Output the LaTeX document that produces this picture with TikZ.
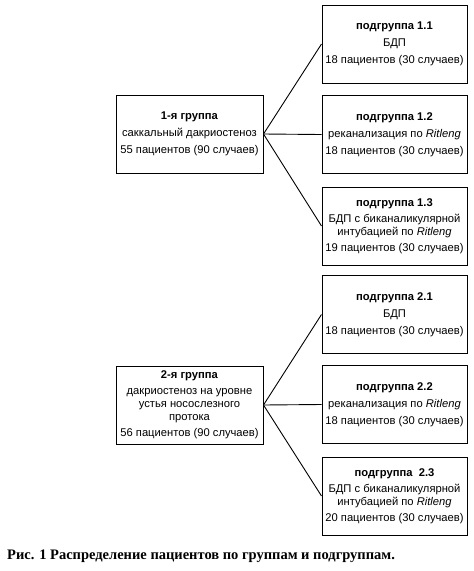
\documentclass[tikz,border=0pt]{standalone}
\usepackage{fontspec}
\setmainfont{Liberation Sans}
\newfontfamily\capfont{Liberation Serif}
\begin{document}
\begin{tikzpicture}[x=1pt,y=-1pt,
  box/.style={draw, line width=1pt, minimum height=78pt, inner sep=0pt, align=center,
    font=\fontsize{11.2}{13}\selectfont},
  grp/.style={box, minimum width=147pt},
  sub/.style={box, minimum width=145pt},
  link/.style={line width=0.9pt}]
\useasboundingbox (0,0) rectangle (474,571);
\node[grp] (g1) at (189.5,134) {\textbf{1-я группа}\\[4pt]саккальный дакриостеноз\\[4pt]55 пациентов (90 случаев)};
\node[grp] (g2) at (189.5,405) {\textbf{2-я группа}\\[3pt]дакриостеноз на уровне\\устья носослезного\\протока\\[3pt]56 пациентов (90 случаев)};
\node[sub] (s11) at (394.5,44) {\textbf{подгруппа 1.1}\\[4pt]БДП\\[4pt]18 пациентов (30 случаев)};
\node[sub] (s12) at (394.5,134.5) {\textbf{подгруппа 1.2}\\[4pt]реканализация по \textit{Ritleng}\\[4pt]18 пациентов (30 случаев)};
\node[sub] (s13) at (394.5,226) {\textbf{подгруппа 1.3}\\[3pt]БДП с биканаликулярной\\интубацией по \textit{Ritleng}\\[3pt]19 пациентов (30 случаев)};
\node[sub] (s21) at (394.5,314.5) {\textbf{подгруппа 2.1}\\[4pt]БДП\\[4pt]18 пациентов (30 случаев)};
\node[sub] (s22) at (394.5,404.5) {\textbf{подгруппа 2.2}\\[4pt]реканализация по \textit{Ritleng}\\[4pt]18 пациентов (30 случаев)};
\node[sub] (s23) at (394.5,496) {\textbf{подгруппа\ \ 2.3}\\[3pt]БДП с биканаликулярной\\интубацией по \textit{Ritleng}\\[3pt]20 пациентов (30 случаев)};
\foreach \g/\s in {g1/s11,g1/s12,g1/s13,g2/s21,g2/s22,g2/s23}
  \draw[link] (\g.east) -- (\s.west);
\node[anchor=base west, inner sep=0pt, font=\capfont\bfseries\fontsize{14.5}{16}\selectfont] (cap) at (7,559)
  {Рис. 1 Распределение пациентов по группам и подгруппам.};
\end{tikzpicture}
\end{document}
